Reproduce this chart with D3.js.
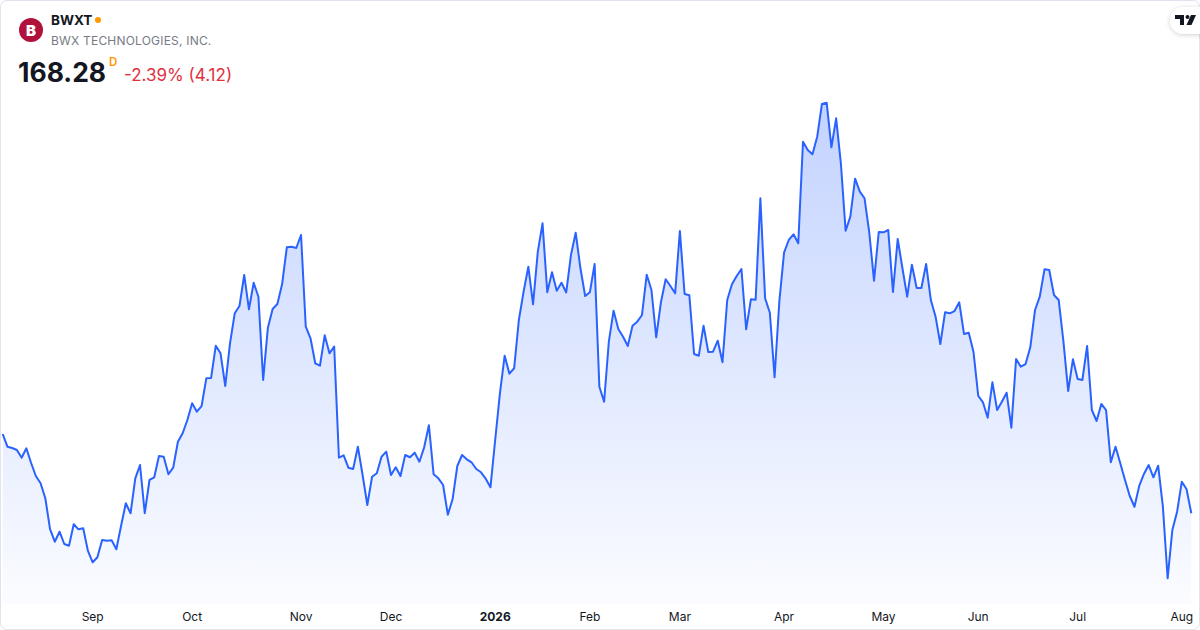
<!DOCTYPE html>
<html>
<head>
<meta charset="utf-8">
<script src="https://cdn.jsdelivr.net/npm/d3@7"></script>
<style>
  html, body { margin: 0; padding: 0; background: #fff; }
  body { width: 1200px; height: 630px; overflow: hidden; font-family: Inter, "Noto Sans", sans-serif; }
</style>
</head>
<body>
<svg id="chart" width="1200" height="630"></svg>
<script>
// ─── Data (daily closes) ─────────────────────────────────────────
const symbol = 'BWXT';
const companyName = 'BWX TECHNOLOGIES, INC.';
const lastPrice = '168.28';
const changeText = '-2.39% (4.12)';

const closes = [
  // Aug – Sep 2025
  181.90, 179.72, 179.49, 179.15, 177.83, 179.44, 176.92, 174.68, 173.43, 170.86,
  165.58, 163.40, 165.12, 163.01, 162.72, 166.39, 165.53, 165.70, 161.81, 159.87,
  160.73, 163.70, 163.58, 163.64, 162.10, 166.15, 170.00, 168.28, 174.29, 176.57,
  168.30, 174.00, 174.46, 178.12, 178.00, 174.98, 176.11, 180.57, 182.02, 184.30,
  187.17, 185.72,
  // Oct – Nov
  186.70, 191.46, 191.50, 197.06, 195.75, 190.14, 197.47, 202.62, 203.87, 209.20,
  203.31, 207.87, 205.47, 191.17, 200.15, 203.36, 204.22, 207.60, 213.95, 214.06,
  213.83, 216.06, 200.32, 198.33, 194.04, 193.62, 198.84, 195.75, 196.89, 177.83,
  178.24, 176.11, 175.89, 179.72, 174.86, 169.71, 174.56, 175.15, 178.00, 178.86,
  // Dec – Feb 2026
  174.86, 176.18, 174.68, 178.29, 177.90, 178.69, 177.14, 179.61, 183.39, 174.98,
  174.29, 173.14, 168.04, 170.68, 176.40, 178.29, 177.55, 177.04, 175.89, 175.32,
  174.22, 172.74, 180.87, 188.88, 195.34, 192.25, 193.18, 201.47, 206.33, 210.62,
  204.17, 213.20, 218.07, 206.23, 209.66, 206.50, 207.87, 206.20, 212.63, 216.46,
  210.35, 205.59, 206.25, 211.09,
  // Feb – Apr
  190.02, 187.44, 197.74, 203.07, 199.92, 198.60, 197.01, 200.49, 201.18, 202.33,
  209.25, 206.62, 198.50, 204.51, 208.46, 207.31, 206.05, 216.75, 205.93, 205.71,
  195.63, 195.34, 200.49, 195.98, 196.03, 197.92, 194.21, 204.90, 207.60, 209.02,
  210.23, 199.87, 205.02, 204.96, 222.37, 205.20, 202.72, 191.63, 204.61, 213.03,
  // Apr – Jun
  215.21, 216.18, 214.64, 232.08, 230.66, 229.92, 232.94, 238.56, 238.78, 231.12,
  236.10, 228.38, 216.80, 219.21, 225.73, 223.50, 222.37, 216.46, 208.22, 216.58,
  216.53, 216.92, 206.28, 215.38, 210.35, 205.47, 210.96, 206.96, 206.96, 211.09,
  204.90, 202.04, 197.35, 202.79, 202.62, 203.01, 204.51, 199.07, 199.29, 196.03,
  188.47, 187.34, 184.69,
  // Jun – Aug 2026
  190.77, 186.02, 187.44, 188.99, 182.98, 194.77, 193.45, 193.91, 196.78, 203.19,
  205.47, 210.17, 210.05, 205.76, 204.90, 197.74, 189.28, 194.72, 191.34, 191.17,
  197.01, 186.02, 184.13, 187.05, 186.00, 177.04, 179.72, 176.87, 174.00, 171.25,
  169.41, 172.97, 175.03, 176.57, 174.46, 176.45, 169.41, 157.12, 165.41, 168.55,
  173.71, 172.40, 168.28
];

// first trading day of each month, as an index into closes
const monthLabels = ['Sep', 'Oct', 'Nov', 'Dec', '2026', 'Feb', 'Mar', 'Apr', 'May', 'Jun', 'Jul', 'Aug'];
const monthStarts = [19, 40, 63, 82, 104, 124, 143, 165, 186, 206, 227, 249];

// ─── Chart ───────────────────────────────────────────────────────
const W = 1200, H = 630;
const BLUE = '#2962FF';
const svg = d3.select('#chart');

// card frame
svg.append('rect')
  .attr('x', 0.5).attr('y', 0.5)
  .attr('width', W - 1).attr('height', H - 1)
  .attr('rx', 6)
  .attr('fill', '#fff')
  .attr('stroke', '#e0e3eb');

const x = d3.scaleLinear()
  .domain([0, closes.length - 1])
  .range([2.7, 1191.3]);

const y = d3.scaleLinear()
  .domain(d3.extent(closes))
  .range([578.3, 102.7]);

const bottom = 604;

const defs = svg.append('defs');
const grad = defs.append('linearGradient')
  .attr('id', 'fillGrad')
  .attr('gradientUnits', 'userSpaceOnUse')
  .attr('x1', 0).attr('x2', 0)
  .attr('y1', y.range()[1]).attr('y2', bottom);
grad.append('stop').attr('offset', 0).attr('stop-color', BLUE).attr('stop-opacity', 0.28);
grad.append('stop').attr('offset', 1).attr('stop-color', BLUE).attr('stop-opacity', 0.02);

const area = d3.area()
  .x((d, i) => x(i))
  .y0(bottom)
  .y1(d => y(d));

const line = d3.line()
  .x((d, i) => x(i))
  .y(d => y(d));

svg.append('path')
  .datum(closes)
  .attr('d', area)
  .attr('fill', 'url(#fillGrad)');

svg.append('path')
  .datum(closes)
  .attr('d', line)
  .attr('fill', 'none')
  .attr('stroke', BLUE)
  .attr('stroke-width', 2)
  .attr('stroke-linejoin', 'round');

// ── time axis labels ──
svg.append('g')
  .selectAll('text')
  .data(monthStarts)
  .join('text')
  .attr('x', d => x(d))
  .attr('y', 621)
  .attr('text-anchor', 'middle')
  .attr('font-size', 12)
  .attr('font-weight', (d, i) => monthLabels[i] === '2026' ? 700 : 400)
  .attr('fill', '#131722')
  .text((d, i) => monthLabels[i]);

// ── header ──
const head = svg.append('g');
head.append('circle')
  .attr('cx', 31).attr('cy', 30).attr('r', 12)
  .attr('fill', '#b1123c');
head.append('text')
  .attr('x', 31).attr('y', 35.5)
  .attr('text-anchor', 'middle')
  .attr('font-size', 15).attr('font-weight', 900)
  .attr('fill', '#fff')
  .text('B');

head.append('text')
  .attr('x', 51).attr('y', 25)
  .attr('font-size', 13.5).attr('font-weight', 700)
  .attr('fill', '#131722')
  .text(symbol);
head.append('circle')
  .attr('cx', 98).attr('cy', 20).attr('r', 3)
  .attr('fill', '#ff9800');

head.append('text')
  .attr('x', 51).attr('y', 45)
  .attr('font-size', 12)
  .attr('letter-spacing', 0.2)
  .attr('fill', '#787b86')
  .text(companyName);

head.append('text')
  .attr('x', 18).attr('y', 82)
  .attr('font-size', 26.5).attr('font-weight', 700)
  .attr('fill', '#131722')
  .text(lastPrice);
head.append('text')
  .attr('x', 109).attr('y', 66)
  .attr('font-size', 11.5).attr('font-weight', 600)
  .attr('fill', '#ff9800')
  .text('D');
head.append('text')
  .attr('x', 124).attr('y', 81)
  .attr('font-size', 17)
  .attr('fill', '#e0303e')
  .text(changeText);

// ── TradingView badge ──
defs.append('filter').attr('id', 'shadow')
  .attr('x', '-50%').attr('y', '-50%').attr('width', '200%').attr('height', '200%')
  .append('feDropShadow')
  .attr('dx', 0).attr('dy', 1).attr('stdDeviation', 2.5)
  .attr('flood-color', '#000').attr('flood-opacity', 0.18);

const badge = svg.append('g');
badge.append('rect')
  .attr('x', 1170).attr('y', 7).attr('width', 50).attr('height', 27).attr('rx', 13.5)
  .attr('fill', '#fff')
  .attr('filter', 'url(#shadow)');
badge.append('path')
  .attr('d', 'M1175,15 h9 v10 h-4 v-6 h-5 z')
  .attr('fill', '#131722');
badge.append('circle')
  .attr('cx', 1187.5).attr('cy', 17).attr('r', 2)
  .attr('fill', '#131722');
badge.append('path')
  .attr('d', 'M1191,15 h5 l-4.5,10 h-5 z')
  .attr('fill', '#131722');
</script>
</body>
</html>
